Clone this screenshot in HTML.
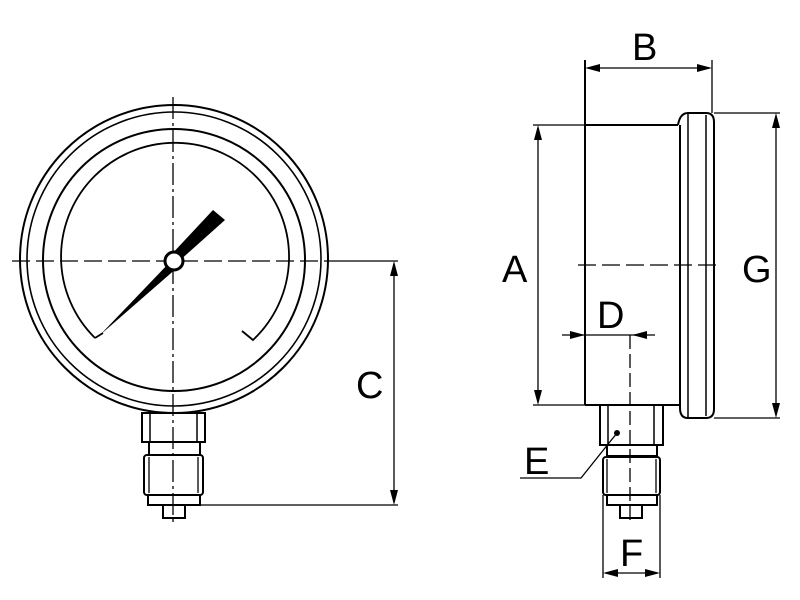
<!DOCTYPE html>
<html><head><meta charset="utf-8"><style>
html,body{margin:0;padding:0;background:#fff}
svg{display:block}
text{font-family:"Liberation Sans",sans-serif;fill:#000}
</style></head><body>
<svg width="800" height="600" viewBox="0 0 800 600" xmlns="http://www.w3.org/2000/svg">
<g fill="none" stroke="#000" stroke-width="2">
<!-- left gauge -->
<circle cx="174" cy="259" r="154"/>
<circle cx="174" cy="259" r="147" stroke-width="1.6"/>
<circle cx="174" cy="260" r="131"/>
<path d="M95,338 A114,114 0 1 1 253,340 L242,331" stroke-width="1.8"/>
<path d="M95,338 L103,333" stroke-width="1.8"/>
<!-- stem left -->
<rect x="142" y="413" width="63" height="29"/>
<line x1="150" y1="413" x2="150" y2="442" stroke-width="1.5"/>
<line x1="197" y1="413" x2="197" y2="442" stroke-width="1.5"/>
<rect x="149" y="442" width="51" height="13"/>
<rect x="144" y="455" width="59" height="40" rx="3"/>
<line x1="149" y1="457" x2="149" y2="493" stroke-width="1.3"/>
<line x1="198" y1="457" x2="198" y2="493" stroke-width="1.3"/>
<rect x="148" y="495" width="52" height="10"/>
<rect x="163" y="505" width="22" height="13"/>
<!-- centerlines -->
<line x1="173" y1="97" x2="173" y2="522" stroke-width="1.3" stroke-dasharray="22,4,3,4"/>
<line x1="12" y1="261" x2="330" y2="261" stroke-width="1.3" stroke-dasharray="18,6"/>
<!-- C dim -->
<line x1="330" y1="261" x2="398" y2="261" stroke-width="1.3"/>
<line x1="200" y1="505" x2="398" y2="505" stroke-width="1.3"/>
<line x1="394" y1="264" x2="394" y2="502" stroke-width="1.3"/>
</g>
<g fill="#000">
<polygon points="213,210 225,220 178,262 170,256"/>
<polygon points="170,262 178,267 100,335"/>
<polygon points="394,261 390,276 398,276"/>
<polygon points="394,505 390,490 398,490"/>
</g>
<circle cx="174" cy="261" r="9" fill="#fff" stroke="#000" stroke-width="3"/>
<text x="356" y="398" font-size="38">C</text>

<!-- right view -->
<g fill="none" stroke="#000" stroke-width="2">
<line x1="585" y1="60" x2="585" y2="405" />
<line x1="585" y1="125" x2="678" y2="125"/>
<line x1="585" y1="405" x2="680" y2="405"/>
<path d="M678,125 Q680,113 688,113 L706,113 Q714,113 714,122 L714,409 Q714,418 706,418 L688,418 Q680,418 680,408 L680,125"/>
<line x1="688" y1="113" x2="688" y2="418" stroke-width="1.5"/>
<line x1="706" y1="115" x2="706" y2="416" stroke-width="1.5"/>
<line x1="712" y1="60" x2="712" y2="113" stroke-width="1.3"/>
<line x1="588" y1="68" x2="709" y2="68" stroke-width="1.3"/>
<!-- A -->
<line x1="533" y1="125" x2="585" y2="125" stroke-width="1.3"/>
<line x1="533" y1="405" x2="585" y2="405" stroke-width="1.3"/>
<line x1="538" y1="128" x2="538" y2="402" stroke-width="1.3"/>
<!-- G -->
<line x1="714" y1="113" x2="780" y2="113" stroke-width="1.3"/>
<line x1="714" y1="418" x2="780" y2="418" stroke-width="1.3"/>
<line x1="776" y1="116" x2="776" y2="415" stroke-width="1.3"/>
<line x1="578" y1="265" x2="720" y2="265" stroke-width="1.3" stroke-dasharray="18,6"/>
<!-- D -->
<line x1="562" y1="335" x2="655" y2="335" stroke-width="1.3"/>
<line x1="630" y1="335" x2="630" y2="522" stroke-width="1.3" stroke-dasharray="14,5"/>
<!-- stem right -->
<rect x="600" y="405" width="63" height="40"/>
<line x1="608" y1="405" x2="608" y2="445" stroke-width="1.5"/>
<line x1="654" y1="405" x2="654" y2="445" stroke-width="1.5"/>
<rect x="607" y="445" width="50" height="11"/>
<rect x="603" y="457" width="57" height="38" rx="3"/>
<line x1="607" y1="459" x2="607" y2="493" stroke-width="1.3"/>
<line x1="656" y1="459" x2="656" y2="493" stroke-width="1.3"/>
<rect x="607" y="495" width="50" height="10"/>
<rect x="620" y="505" width="22" height="13"/>
<!-- F -->
<line x1="603" y1="495" x2="603" y2="578" stroke-width="1.3"/>
<line x1="660" y1="495" x2="660" y2="578" stroke-width="1.3"/>
<line x1="606" y1="573" x2="657" y2="573" stroke-width="1.3"/>
<!-- E leader -->
<polyline points="617,433 581,478 520,478" stroke-width="1.3"/>
</g>
<g fill="#000">
<polygon points="585,68 600,64 600,72"/>
<polygon points="712,68 697,64 697,72"/>
<polygon points="538,125 534,140 542,140"/>
<polygon points="538,405 534,390 542,390"/>
<polygon points="776,113 772,128 780,128"/>
<polygon points="776,418 772,403 780,403"/>
<polygon points="585,335 570,331 570,339"/>
<polygon points="632,335 647,331 647,339"/>
<polygon points="603,573 618,569 618,577"/>
<polygon points="660,573 645,569 645,577"/>
<circle cx="617" cy="433" r="3"/>
</g>
<text x="632" y="60" font-size="38">B</text>
<text x="502" y="282" font-size="38">A</text>
<text x="742" y="282" font-size="38">G</text>
<text x="597" y="328" font-size="38">D</text>
<text x="524" y="474" font-size="38">E</text>
<text x="620" y="566" font-size="38">F</text>
</svg>
</body></html>
